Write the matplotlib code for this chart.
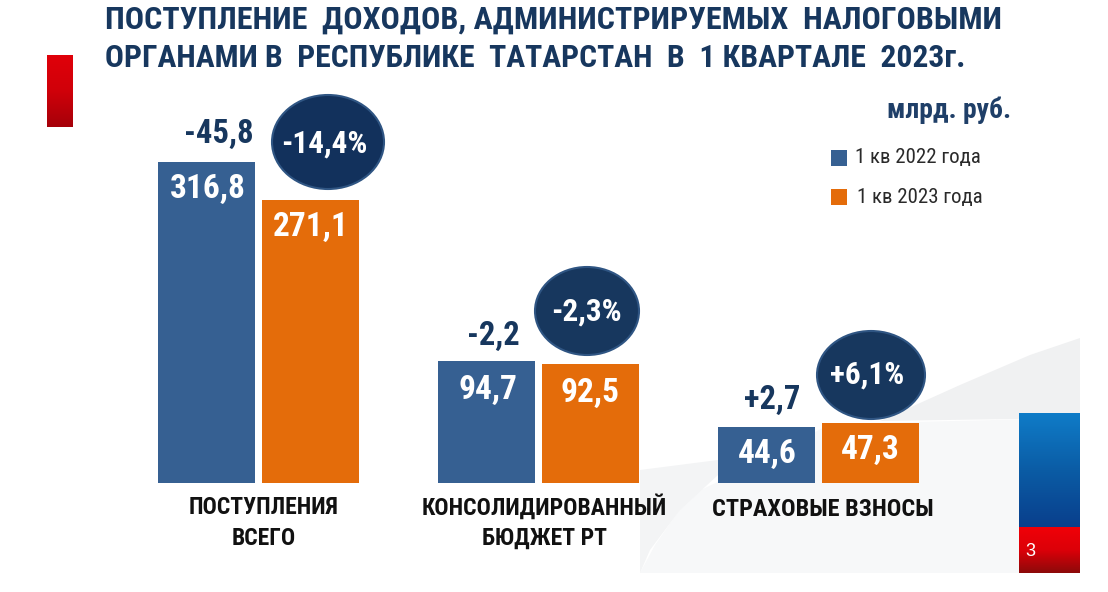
import numpy as np
import matplotlib
matplotlib.use("Agg")
import matplotlib.pyplot as plt
from matplotlib.colors import LinearSegmentedColormap
from matplotlib.patches import Ellipse, Polygon, Rectangle

narrow = ["Roboto Condensed", "Liberation Sans"]

# ---- data ----
categories = ["ПОСТУПЛЕНИЯ\nВСЕГО", "КОНСОЛИДИРОВАННЫЙ\nБЮДЖЕТ РТ", "СТРАХОВЫЕ ВЗНОСЫ"]
series_names = ["1 кв 2022 года", "1 кв 2023 года"]
labels_2022 = ["316,8", "94,7", "44,6"]
labels_2023 = ["271,1", "92,5", "47,3"]
# the slide's bars are not to scale with their labels: heights as drawn
heights_2022 = [321.5, 122, 56]
heights_2023 = [283, 119, 60]
changes_abs = ["-45,8", "-2,2", "+2,7"]
changes_pct = ["-14,4%", "-2,3%", "+6,1%"]
title_lines = ["ПОСТУПЛЕНИЕ  ДОХОДОВ, АДМИНИСТРИРУЕМЫХ  НАЛОГОВЫМИ",
               "ОРГАНАМИ В  РЕСПУБЛИКЕ  ТАТАРСТАН  В  1 КВАРТАЛЕ  2023г."]
unit = "млрд. руб."

BLUE, ORANGE, NAVY, TITLE = "#366092", "#E46C0A", "#17375E", "#17375E"

W, H = 1108, 592
fig = plt.figure(figsize=(W / 100, H / 100), dpi=100, facecolor="white")


def pixel_axes():
    a = fig.add_axes([0, 0, 1, 1], facecolor="none")
    a.set_xlim(0, W)
    a.set_ylim(H, 0)
    a.axis("off")
    return a


bg = pixel_axes()


def grad(x0, x1, y0, y1, colors):
    cm = LinearSegmentedColormap.from_list("g", colors)
    bg.imshow(np.linspace(0, 1, 256)[:, None], extent=(x0, x1, y1, y0), cmap=cm,
              aspect="auto", zorder=1)


# background swoosh
bg.add_patch(Polygon([(640, 573), (655, 545), (690, 495), (760, 462), (830, 424), (1080, 418),
                      (1080, 573)], closed=True, fc="#F7F8F9", ec="none", zorder=0))
bg.add_patch(Polygon([(880, 421), (960, 385), (1030, 355), (1080, 338), (1080, 418)],
                     closed=True, fc="#F0F1F2", ec="none", zorder=0))
bg.add_patch(Polygon([(640, 470), (718, 460), (718, 475), (680, 510), (650, 550), (640, 573)],
                     closed=True, fc="#F3F4F5", ec="none", zorder=0))

# side decoration
grad(47, 73, 55, 127, ["#E0000A", "#D00009", "#A5000A"])
grad(1019, 1080, 413, 527, ["#0F7CC8", "#0B5CA5", "#093F8C"])
grad(1019, 1080, 527, 573, ["#F00008", "#DC0008", "#8C0A0A"])
bg.set_xlim(0, W)
bg.set_ylim(H, 0)

# bars; groups 280 px apart, baseline at y=483
bax = fig.add_axes([0, 0, 1, 1], facecolor="none")
bax.set_xlim(-258.5 / 280, (W - 258.5) / 280)
bax.set_ylim(-(H - 483), 483)
bax.axis("off")
x = np.arange(len(categories))
bw = 97 / 280
off = 52 / 280
bax.bar(x - off, heights_2022, bw, color=BLUE)
bax.bar(x + off, heights_2023, bw, color=ORANGE)

ax = pixel_axes()
ax.text(1030, 552, "3", color="white", fontsize=13, family="Liberation Sans", ha="center", va="center")


def px(i, o):
    return 258.5 + 280 * i + o


for i in range(3):
    top1 = 483 - heights_2022[i]
    top2 = 483 - heights_2023[i]
    inset = [27, 29, 27][i]
    ax.text(px(i, -51), top1 + inset, labels_2022[i], color="white", fontsize=24, weight="bold",
            family=narrow, ha="center", va="center")
    ax.text(px(i, 52), top2 + inset, labels_2023[i], color="white", fontsize=24, weight="bold",
            family=narrow, ha="center", va="center")

abs_xy = [(219, 134), (493, 336), (772, 400)]
ell = [(328, 142, 56, 47), (587, 311, 52, 44), (871, 375, 54, 44)]
pct_y = [144, 312, 375]
pct_x = [324, 586, 867]
for i in range(3):
    ax.text(*abs_xy[i], changes_abs[i], color=NAVY, fontsize=23.5, weight="bold", family=narrow,
            ha="center", va="center")
    cx, cy, rx, ry = ell[i]
    ax.add_patch(Ellipse((cx, cy), 2 * rx, 2 * ry, fc="#12315C" if i == 0 else NAVY,
                         ec="#2F5583", lw=1.5))
    ax.text(pct_x[i], pct_y[i], changes_pct[i], color="white", fontsize=22.5, weight="bold",
            family=narrow, ha="center", va="center")

# category labels
cat_xy = [(264, 523), (544, 522), (823, 509)]
cat_size = [17, 17, 17.5]
for i, c in enumerate(categories):
    ax.text(*cat_xy[i], c, color="#111111", fontsize=cat_size[i], weight="bold", family=narrow,
            ha="center", va="center", linespacing=1.4)

# title
ax.text(105, 20, title_lines[0], color=TITLE, fontsize=23, weight="bold", family=narrow,
        ha="left", va="center")
ax.text(105, 58, title_lines[1], color=TITLE, fontsize=22.8, weight="bold", family=narrow,
        ha="left", va="center")
ax.text(949, 110, unit, color="#1F3F68", fontsize=20, weight="bold", family=narrow,
        ha="center", va="center")

# legend
for y, col, name, tx in zip([158, 197], [BLUE, ORANGE], series_names, [855, 857]):
    ax.add_patch(Rectangle((831, y - 8), 16, 16, fc=col, ec="none"))
    ax.text(tx, y, name, color="#2A2A2A", fontsize=15, family=narrow, ha="left", va="center")

fig.savefig("out.png", dpi=100)
